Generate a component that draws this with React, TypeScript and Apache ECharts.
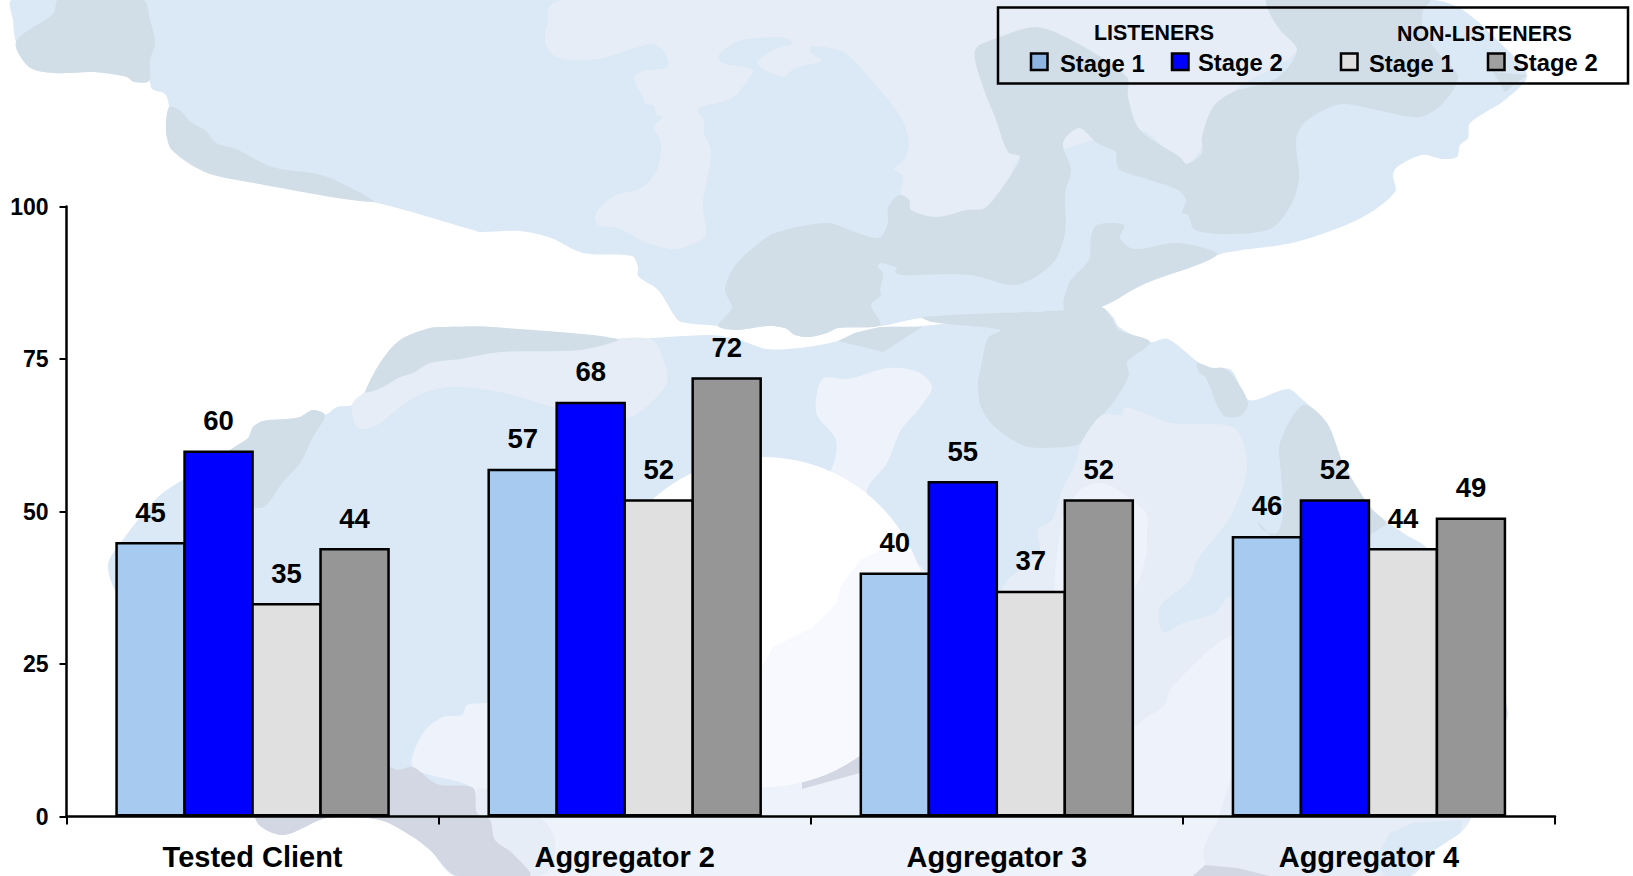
import React, { useEffect, useRef } from "react";
import * as echarts from "echarts";

// Chart data
const categories = ["Tested Client", "Aggregator 2", "Aggregator 3", "Aggregator 4"];
const listenersStage1 = [45, 57, 40, 46];
const listenersStage2 = [60, 68, 55, 52];
const nonListenersStage1 = [35, 52, 37, 44];
const nonListenersStage2 = [44, 72, 52, 49];
const yTicks = { min: 0, max: 100, interval: 25 };

const FONT = '"Liberation Sans", Arial, Helvetica, sans-serif';
const BAR_COLORS = ["#a6caf0", "#0000ff", "#e0e0e0", "#969696"];
const SWATCH_COLORS = ["#8eb4e3", "#0000ff", "#dedede", "#a0a0a0"];

// Map backdrop colours
const SEA_BLUE = "#dbe8f5";
const SLATE = "#d1dee8";
const PALE = "#e6edf7";
const PALEST = "#eef3fb";
const LILAC = "#d3d7e3";
const GLOW_TINT = "#f8f9fe";

type Pt = [number, number];

const northLand: Pt[] = [
  [12, 0], [13, 20], [16, 42], [29, 67], [54, 73], [94, 72], [127, 77], [134, 82], [149, 81], [152, 89], [165, 94],
  [169, 107], [166, 130], [172, 150], [205, 172], [243, 181], [373, 202], [473, 230], [480, 232], [520, 231],
  [551, 238], [583, 253], [632, 256], [638, 267], [638, 276], [658, 290], [674, 315], [681, 322], [718, 326],
  [736, 330], [767, 326], [785, 328], [795, 335], [809, 337], [827, 333], [838, 328], [881, 326], [922, 318],
  [1066, 310], [1101, 307], [1142, 285], [1217, 255], [1296, 242], [1361, 218], [1395, 192], [1393, 175], [1397, 167],
  [1422, 155], [1442, 159], [1457, 157], [1460, 145], [1468, 138], [1470, 123], [1505, 100], [1527, 75], [1500, 43],
  [1463, 10], [1433, 0],
];

const southLand: Pt[] = [
  [108, 565], [125, 537], [158, 497], [187, 477], [230, 450], [248, 438], [253, 427], [263, 421], [287, 419],
  [300, 417], [313, 410], [325, 415], [337, 407], [352, 405], [365, 392], [380, 363], [400, 340], [430, 328],
  [446, 327], [491, 327], [618, 339], [711, 335], [739, 340], [767, 349], [799, 348], [838, 341], [855, 333],
  [883, 327], [922, 326], [1066, 310], [1101, 307], [1113, 317], [1119, 327], [1150, 342], [1168, 339], [1198, 362],
  [1211, 368], [1231, 370], [1249, 400], [1288, 389], [1303, 400], [1327, 423], [1343, 463], [1370, 507], [1403, 533],
  [1427, 548], [1470, 610], [1500, 680], [1508, 713], [1505, 723], [1470, 820], [1460, 833], [1430, 853], [1410, 876],
  [457, 876], [430, 850], [413, 837], [380, 820], [327, 818], [283, 835], [256, 820], [200, 720], [120, 600],
];

const slateNorthWest: Pt[] = [
  [58, 0], [54, 13], [16, 42], [29, 67], [54, 73], [94, 72], [127, 77], [134, 82], [149, 81], [150, 60], [155, 43],
  [150, 20], [143, 0],
];
const slateCoast: Pt[] = [
  [169, 107], [179, 110], [192, 123], [205, 130], [216, 143], [236, 149], [272, 167], [317, 174], [335, 180], [373, 202],
  [243, 181], [205, 172], [172, 150], [166, 130],
];
const paleNorth: Pt[] = [
  [562, 0], [549, 7], [548, 20], [545, 40], [553, 55], [571, 60], [603, 58], [652, 44], [665, 53], [667, 67], [643, 71],
  [634, 78], [643, 97], [645, 103], [654, 106], [656, 115], [663, 117], [654, 127], [661, 142], [658, 167], [643, 187],
  [614, 196], [596, 213], [598, 225], [618, 228], [647, 243], [678, 249], [704, 238], [706, 230], [703, 203], [710, 163],
  [710, 147], [704, 133], [704, 120], [697, 110], [704, 106], [732, 98], [753, 72], [750, 68], [722, 63], [719, 55],
  [739, 41], [771, 37], [785, 38], [793, 43], [774, 50], [757, 63], [783, 77], [795, 68], [822, 61], [811, 53], [811, 46],
  [845, 53], [873, 82], [901, 117], [909, 143], [904, 160], [894, 169], [903, 176], [901, 195], [909, 200], [911, 210],
  [936, 217], [967, 210], [985, 208], [1009, 178], [1020, 157], [1060, 150], [1140, 130], [1187, 164], [1233, 92],
  [1297, 50], [1268, 10], [1267, 0],
];
const slateCentral: Pt[] = [
  [718, 326], [732, 308], [725, 290], [734, 267], [753, 248], [775, 233], [827, 223], [855, 232], [879, 238], [888, 223],
  [888, 208], [899, 195], [909, 200], [911, 210], [936, 217], [967, 210], [985, 208], [1009, 178], [1020, 157], [1008, 152],
  [995, 117], [983, 87], [975, 50], [997, 38], [1037, 27], [1077, 43], [1127, 77], [1128, 97], [1140, 130], [1180, 157],
  [1187, 164], [1202, 153], [1202, 137], [1213, 107], [1233, 92], [1277, 78], [1297, 50], [1280, 30], [1268, 10], [1267, 0],
  [1430, 0], [1423, 10], [1423, 30], [1440, 55], [1458, 77], [1443, 103], [1420, 117], [1377, 110], [1345, 104], [1328, 108],
  [1304, 123], [1296, 140], [1299, 177], [1292, 203], [1272, 228], [1235, 234], [1195, 230], [1188, 215], [1182, 213],
  [1186, 200], [1178, 190], [1150, 180], [1120, 170], [1116, 160], [1116, 152], [1097, 143], [1079, 128], [1063, 143],
  [1071, 170], [1065, 193], [1065, 233], [1053, 263], [1016, 285], [971, 275], [915, 275], [901, 275], [895, 272],
  [897, 268], [880, 263], [878, 267], [883, 273], [880, 290], [881, 295], [871, 305], [880, 325], [838, 328], [827, 333],
  [809, 337], [795, 335], [785, 328], [767, 326], [736, 330],
];
const slateInlandSea: Pt[] = [
  [1217, 255], [1178, 243], [1134, 249], [1120, 238], [1124, 225], [1097, 225], [1091, 237], [1089, 260], [1069, 283],
  [1065, 310], [1101, 307], [1142, 285],
];
const slateCornerNE: Pt[] = [[1493, 72], [1527, 75], [1505, 92]];

const slateWestAfrica: Pt[] = [
  [325, 415], [313, 410], [300, 417], [287, 419], [263, 421], [253, 427], [248, 438], [230, 450], [200, 480], [260, 508],
  [283, 482], [300, 463], [313, 437],
];
const slateBand: Pt[] = [
  [365, 392], [380, 363], [400, 340], [430, 328], [446, 327], [491, 327], [618, 339], [580, 350], [500, 352], [460, 359],
  [430, 363], [413, 373], [400, 377], [383, 387], [370, 392],
];
const paleBand: Pt[] = [
  [352, 405], [365, 392], [370, 392], [383, 387], [400, 377], [413, 373], [430, 363], [460, 359], [500, 352], [580, 350],
  [618, 339], [650, 339], [660, 350], [666, 385], [620, 420], [500, 392], [473, 388], [450, 387], [423, 393], [400, 407],
  [377, 425], [358, 428],
];
const slateMiddleEast: Pt[] = [
  [988, 338], [981, 367], [978, 383], [981, 407], [995, 427], [1022, 445], [1041, 448], [1081, 443], [1101, 417], [1115, 400],
  [1129, 375], [1127, 362], [1150, 342], [1119, 330], [1111, 317], [1101, 307], [1066, 310], [922, 317], [932, 322], [1001, 330],
];
const slateWedge: Pt[] = [[838, 341], [883, 352], [922, 327], [880, 327], [855, 333]];
const slateSmallBlob: Pt[] = [
  [1197, 363], [1199, 372], [1206, 378], [1223, 415], [1240, 416], [1248, 403], [1234, 377], [1223, 368], [1213, 368],
];
const slateEast: Pt[] = [
  [1303, 405], [1280, 443], [1281, 473], [1283, 513], [1277, 533], [1263, 530], [1258, 522], [1300, 560], [1385, 525],
  [1370, 507], [1343, 463], [1327, 423],
];
const paleSouth: Pt[] = [
  [1081, 443], [1102, 415], [1122, 415], [1124, 408], [1136, 410], [1171, 423], [1234, 428], [1247, 467], [1230, 517],
  [1197, 560], [1190, 580], [1160, 607], [1163, 632], [1183, 623], [1215, 613], [1230, 597], [1300, 600], [1505, 715],
  [1505, 723], [1470, 820], [1460, 833], [1430, 853], [1410, 876], [1270, 876], [1100, 860], [990, 810], [1002, 590],
  [1039, 553], [1038, 530], [1052, 520], [1062, 490], [1076, 463],
];
const palestSouth: Pt[] = [
  [413, 767], [423, 733], [443, 717], [462, 715], [467, 705], [488, 702], [600, 650], [760, 600], [831, 470], [836, 440],
  [817, 415], [817, 393], [824, 378], [848, 379], [888, 368], [918, 372], [932, 387], [918, 410], [901, 430], [887, 463],
  [867, 493], [905, 550], [1000, 640], [1130, 727], [1147, 717], [1165, 705], [1170, 690], [1213, 647], [1235, 637],
  [1250, 700], [1217, 822], [1208, 837], [1203, 853], [1205, 865], [1193, 876], [530, 876], [512, 853], [495, 840],
  [490, 820], [477, 813], [473, 788],
];
const palestBlob: Pt[] = [
  [1062, 520], [1080, 490], [1101, 483], [1118, 490], [1146, 513], [1147, 533], [1145, 560], [1132, 590], [1060, 620],
];
const paleShoal: Pt[] = [
  [477, 790], [489, 790], [543, 820], [555, 840], [550, 870], [530, 876], [512, 853], [495, 840], [490, 820], [477, 813],
];
const blueShoal: Pt[] = [
  [1390, 833], [1413, 823], [1463, 820], [1460, 833], [1430, 853], [1410, 876], [1385, 876], [1375, 860],
];
const lilacWest: Pt[] = [
  [370, 760], [390, 767], [398, 770], [413, 767], [430, 780], [440, 785], [473, 788], [477, 813], [490, 820], [495, 840],
  [512, 853], [530, 876], [457, 876], [430, 850], [413, 837], [380, 820], [327, 818], [283, 835], [256, 820], [250, 700],
  [360, 700],
];
const lilacSliver: Pt[] = [[802, 789], [860, 773], [872, 769], [872, 730], [802, 770]];
const lilacSouth: Pt[] = [[1193, 876], [1205, 865], [1237, 868], [1270, 876]];

// Soft white disc over the continent, and the faint land showing through it
const GLOW = { cx: 763, cy: 622, r: 165 };
const glowEdge: Pt[] = Array.from({ length: 28 }, (_, i): Pt => {
  const a = ((-24 + i * 5) * Math.PI) / 180;
  return [GLOW.cx + GLOW.r * Math.cos(a), GLOW.cy + GLOW.r * Math.sin(a)];
});
const glowTint: Pt[] = [
  [762, 667], [773, 647], [813, 627], [837, 603], [840, 587], [860, 560], [880, 550], [905, 548],
  ...glowEdge,
  [620, 667],
];

const land = (points: Pt[], fill: string, smooth: number | undefined = 0.3) => ({
  type: "polygon",
  silent: true,
  z: -10,
  shape: smooth ? { points, smooth } : { points },
  style: { fill, stroke: "none" },
});

const backdrop = [
  land(northLand, SEA_BLUE),
  land(southLand, SEA_BLUE),
  land(slateNorthWest, SLATE),
  land(slateCoast, SLATE),
  land(paleNorth, PALE),
  land(slateCentral, SLATE),
  land(slateInlandSea, SLATE),
  land(slateCornerNE, SLATE, 0),
  land(slateWestAfrica, SLATE),
  land(paleBand, PALE),
  land(slateBand, SLATE),
  land(slateMiddleEast, SLATE),
  land(slateWedge, SLATE, 0),
  land(slateSmallBlob, SLATE),
  land(slateEast, SLATE),
  land(paleSouth, PALE),
  land(palestSouth, PALEST),
  land(palestBlob, PALEST),
  land(paleShoal, PALE),
  land(blueShoal, SEA_BLUE, 0),
  land(lilacWest, LILAC),
  land(lilacSliver, LILAC, 0),
  land(lilacSouth, LILAC, 0),
  {
    type: "circle",
    silent: true,
    z: -9,
    shape: { cx: GLOW.cx, cy: GLOW.cy, r: GLOW.r },
    style: { fill: "#ffffff" },
  },
  {
    type: "polygon",
    silent: true,
    z: -8,
    shape: { points: glowTint },
    style: { fill: GLOW_TINT },
  },
];

const legendText = (text: string, x: number, y: number, fontSize: number) => ({
  type: "text",
  z: 20,
  x,
  y,
  style: {
    text,
    fill: "#000",
    font: `bold ${fontSize}px ${FONT}`,
    textAlign: "left",
    textVerticalAlign: "middle",
  },
});

const legendSwatch = (x: number, fill: string) => ({
  type: "rect",
  z: 20,
  shape: { x, y: 53.5, width: 16.5, height: 16.5 },
  style: { fill, stroke: "#000", lineWidth: 2.5 },
});

const legend = [
  {
    type: "rect",
    z: 20,
    shape: { x: 998, y: 7.5, width: 630, height: 76 },
    style: { fill: "none", stroke: "#000", lineWidth: 2.5 },
  },
  legendText("LISTENERS", 1094, 33, 21.4),
  legendText("NON-LISTENERS", 1397, 33.5, 21.4),
  legendSwatch(1031, SWATCH_COLORS[0]),
  legendText("Stage 1", 1060, 63, 23.8),
  legendSwatch(1172, SWATCH_COLORS[1]),
  legendText("Stage 2", 1198, 62, 23.8),
  legendSwatch(1341, SWATCH_COLORS[2]),
  legendText("Stage 1", 1369, 63, 23.8),
  legendSwatch(1488, SWATCH_COLORS[3]),
  legendText("Stage 2", 1513, 62, 23.8),
];

const barSeries = (name: string, data: number[], color: string) => ({
  name,
  type: "bar",
  data,
  // Neighbouring bars overlap by one border width so they share a single outline
  barWidth: 70.5,
  barGap: "-3.55%",
  itemStyle: { color, borderColor: "#000", borderWidth: 2.5 },
  label: {
    show: true,
    position: "top",
    distance: 16,
    color: "#000",
    fontFamily: FONT,
    fontWeight: "bold",
    fontSize: 27.5,
  },
});

export default function App() {
  const ref = useRef<HTMLDivElement>(null);

  useEffect(() => {
    document.body.style.margin = "0";
    const chart = echarts.init(ref.current!, undefined, { renderer: "svg" });
    chart.setOption({
      animation: false,
      backgroundColor: "#ffffff",
      grid: { left: 66.5, top: 206.5, width: 1488.5, height: 610, containLabel: false },
      xAxis: {
        type: "category",
        data: categories,
        axisLine: { lineStyle: { color: "#000", width: 2.5 } },
        axisTick: { show: true, length: 8, lineStyle: { color: "#000", width: 2 } },
        axisLabel: {
          color: "#000",
          fontFamily: FONT,
          fontWeight: "bold",
          fontSize: 29,
          margin: 26,
        },
      },
      yAxis: {
        type: "value",
        min: yTicks.min,
        max: yTicks.max,
        interval: yTicks.interval,
        splitLine: { show: false },
        axisLine: { show: true, lineStyle: { color: "#000", width: 2.5 } },
        axisTick: { show: true, length: 7, lineStyle: { color: "#000", width: 2 } },
        axisLabel: {
          color: "#000",
          fontFamily: FONT,
          fontWeight: "bold",
          fontSize: 23,
          margin: 18,
        },
      },
      series: [
        barSeries("Listeners Stage 1", listenersStage1, BAR_COLORS[0]),
        barSeries("Listeners Stage 2", listenersStage2, BAR_COLORS[1]),
        barSeries("Non-listeners Stage 1", nonListenersStage1, BAR_COLORS[2]),
        barSeries("Non-listeners Stage 2", nonListenersStage2, BAR_COLORS[3]),
      ],
      graphic: { elements: [...backdrop, ...legend] },
    });
    return () => chart.dispose();
  }, []);

  return <div ref={ref} style={{ position: "fixed", left: 0, top: 0, width: 1633, height: 876 }} />;
}
